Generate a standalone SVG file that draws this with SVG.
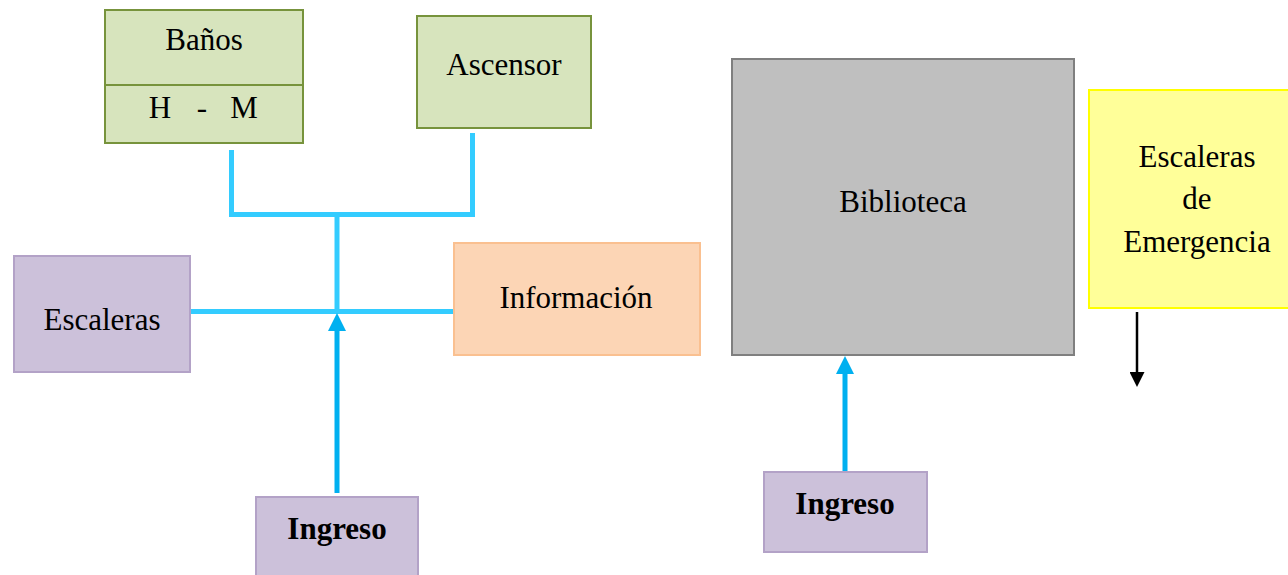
<svg xmlns="http://www.w3.org/2000/svg" width="1288" height="575" viewBox="0 0 1288 575">
<style>
.t{font-family:"Liberation Serif","Times New Roman",serif;font-size:31px;fill:#000;text-anchor:middle}
.b{font-weight:bold}
.green{fill:#D7E4BD;stroke:#77933C;stroke-width:2}
.purple{fill:#CCC1DA;stroke:#B3A2C7;stroke-width:2}
.orange{fill:#FCD5B5;stroke:#FAC090;stroke-width:2}
.gray{fill:#BFBFBF;stroke:#7F7F7F;stroke-width:2}
.yellow{fill:#FFFF99;stroke:#FFFF00;stroke-width:2}
.lb{fill:none;stroke:#33CCFF;stroke-width:5}
.ar{fill:none;stroke:#00B0F0;stroke-width:5}
</style>
<defs>
<marker id="ab" markerWidth="18" markerHeight="18" refX="0" refY="9" viewBox="0 0 18 18" markerUnits="userSpaceOnUse" orient="auto">
<path d="M0,0 L18,9 L0,18 Z" fill="#00B0F0"/>
</marker>
<marker id="ak" markerWidth="15" markerHeight="15" refX="0" refY="7.5" viewBox="0 0 15 15" markerUnits="userSpaceOnUse" orient="auto">
<path d="M0,0 L15,7.5 L0,15 Z" fill="#000"/>
</marker>
</defs>
<rect width="1288" height="575" fill="#fff"/>
<g id="connectors">
<polyline class="lb" points="231.5,150 231.5,214.5 472.5,214.5 472.5,133"/>
<line class="lb" x1="337" y1="214.5" x2="337" y2="312"/>
<line class="lb" x1="190" y1="311.5" x2="455" y2="311.5"/>
<line class="ar" x1="337" y1="493" x2="337" y2="331" marker-end="url(#ab)"/>
<line class="ar" x1="845" y1="471" x2="845" y2="374" marker-end="url(#ab)"/>
<line x1="1137" y1="312" x2="1137" y2="372" stroke="#000" stroke-width="2.5" marker-end="url(#ak)"/>
</g>
<g id="banos">
<rect class="green" x="105" y="10" width="198" height="133"/>
<line x1="105" y1="85" x2="303" y2="85" stroke="#77933C" stroke-width="2"/>
<text class="t" x="204" y="50">Baños</text>
<text class="t" y="118"><tspan x="160">H</tspan><tspan x="202">-</tspan><tspan x="244">M</tspan></text>
</g>
<g id="ascensor">
<rect class="green" x="417" y="16" width="174" height="112"/>
<text class="t" x="504" y="75">Ascensor</text>
</g>
<g id="escaleras">
<rect class="purple" x="14" y="256" width="176" height="116"/>
<text class="t" x="102" y="330">Escaleras</text>
</g>
<g id="informacion">
<rect class="orange" x="454" y="243" width="246" height="112"/>
<text class="t" x="576" y="308">Información</text>
</g>
<g id="ingreso1">
<rect class="purple" x="256" y="497" width="162" height="90"/>
<text class="t b" x="337" y="539">Ingreso</text>
</g>
<g id="biblioteca">
<rect class="gray" x="732" y="59" width="342" height="296"/>
<text class="t" x="903" y="212">Biblioteca</text>
</g>
<g id="emergencia">
<rect class="yellow" x="1089" y="90" width="210" height="218"/>
<text class="t" x="1197" y="167">Escaleras</text>
<text class="t" x="1197" y="209">de</text>
<text class="t" x="1197" y="252">Emergencia</text>
</g>
<g id="ingreso2">
<rect class="purple" x="764" y="472" width="163" height="80"/>
<text class="t b" x="845" y="514">Ingreso</text>
</g>
</svg>
